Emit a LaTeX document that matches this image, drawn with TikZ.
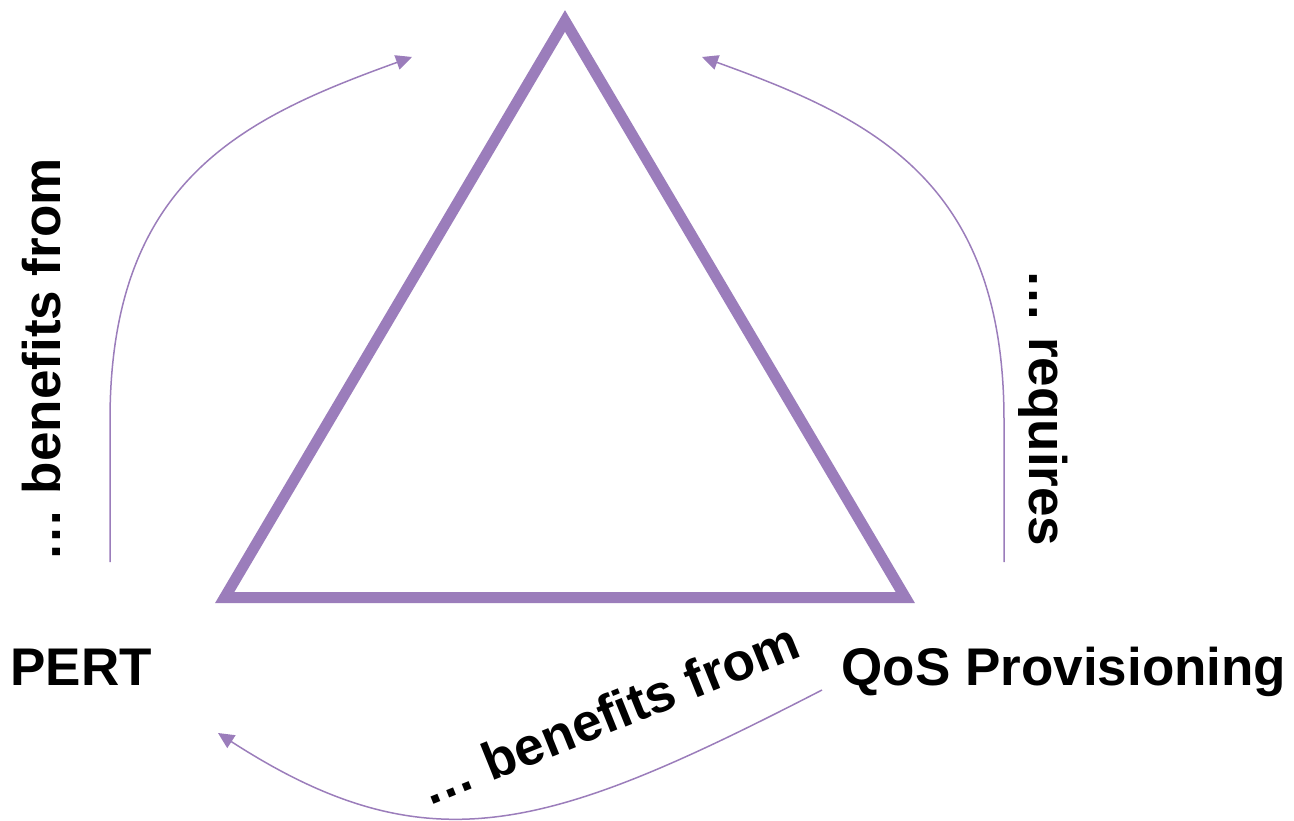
\documentclass[tikz,border=0pt]{standalone}
\usepackage{fontspec}
\setmainfont{Liberation Sans}
\usetikzlibrary{arrows.meta}
\definecolor{triclr}{RGB}{155,125,187}
\begin{document}
\begin{tikzpicture}[x=1pt,y=-1pt,
  lbl/.style={font=\fontsize{53}{60}\selectfont\bfseries, inner sep=0pt},
  conn/.style={draw=triclr, line width=1.5pt, -{Triangle[length=16pt,width=15pt]}},
  trishape/.style={draw=triclr, line width=11pt, line join=miter}]
\useasboundingbox (0,0) rectangle (1294,821);
\draw[trishape] (565,21) -- (905.3,597.5) -- (224.7,597.5) -- cycle;
\node[lbl, anchor=base] (pert) at (81,685) {PERT};
\node[lbl, anchor=base] (qos) at (1064,685) {QoS Provisioning};
\node[lbl, anchor=base, rotate=90] (lbA) at (60,360) {… benefits from};
\node[lbl, anchor=base, rotate=-90] (lbB) at (1029,408) {… requires};
\node[lbl, anchor=base, rotate=22] (lbC) at (616,731) {… benefits from};
\coordinate (s1) at (110,562);
\coordinate (e1) at (412,57);
\coordinate (s2) at (1004,562);
\coordinate (e2) at (702,57);
\coordinate (s3) at (822,690);
\coordinate (e3) at (218,733);
\draw[conn] (s1) -- (110,420) .. controls (110,180) and (243,118) .. (e1);
\draw[conn] (s2) -- (1004,420) .. controls (1004,180) and (871,118) .. (e2);
\draw[conn] (s3) .. controls (550,830) and (430,870) .. (e3);
\end{tikzpicture}
\end{document}
